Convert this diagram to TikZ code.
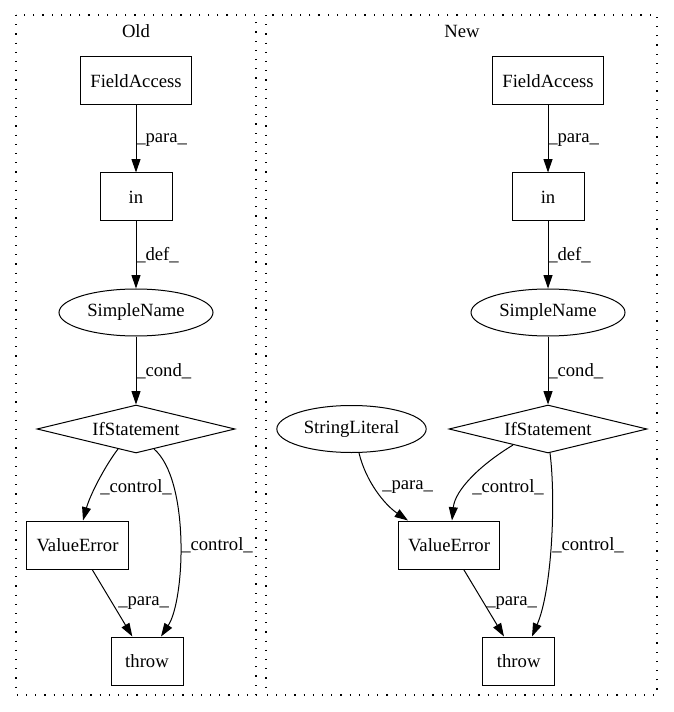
\documentclass[tikz,border=0pt]{standalone}
\usepackage{fontspec}
\setmainfont{Liberation Serif}
\usetikzlibrary{shapes.geometric,arrows.meta}
\begin{document}
\begin{tikzpicture}[x=0.75pt,y=-0.75pt,
  every node/.style={font=\fontsize{14}{16}\selectfont},
  box/.style={draw,line width=0.75pt,rectangle,inner sep=0pt,minimum height=36pt},
  ell/.style={draw,line width=0.75pt,ellipse,inner sep=0pt,minimum height=35.25pt},
  dia/.style={draw,line width=0.75pt,diamond,shape aspect=4,inner sep=0pt,minimum width=148.5pt,minimum height=36pt},
  edge/.style={draw,line width=0.75pt,-{Triangle[length=10pt,width=6.7pt]}},
  lab/.style={anchor=west,inner sep=0pt},
  cluster/.style={draw,line width=0.9pt,dash pattern=on 0.9pt off 6pt}]
\useasboundingbox (0,0) rectangle (673,712);
% clusters
\draw[cluster] (16,15) rectangle (256,695);
\draw[cluster] (266,15) rectangle (657,695);
\node (oldt) at (136,31) {Old};
\node (newt) at (462,31) {New};
% Old nodes
\node[box,minimum width=83.25pt] (fa1) at (136,81) {FieldAccess};
\node[box,minimum width=54pt] (in1) at (136,197) {in};
\node[ell,minimum width=115.5pt] (sn1) at (136,312.5) {SimpleName};
\node[dia] (if1) at (136,429) {IfStatement};
\node[box,minimum width=76pt] (ve1) at (77.5,545) {ValueError};
\node[box,minimum width=54pt] (th1) at (147,661) {throw};
% Old edges
\draw[edge] (fa1) -- (in1);
\draw[edge] (in1) -- (sn1);
\draw[edge] (sn1) -- (if1);
\path (if1.center) ++(-18,20) coordinate (c1s);
\draw[edge] (c1s) .. controls (105,466) and (90,495) .. (ve1.north -| 83,0);
\path (if1.center) ++(18,20) coordinate (c2s);
\draw[edge] (c2s) .. controls (190,480) and (185,600) .. (th1.north -| 161,0);
\draw[edge] (ve1) -- (th1);
\node[lab] (l1) at (136,140) {\_para\_};
\node[lab] (l2) at (136,255) {\_def\_};
\node[lab] (l3) at (136,371) {\_cond\_};
\node[lab] (l4) at (100,487) {\_control\_};
\node[lab] (l5) at (181,545) {\_control\_};
\node[lab] (l6) at (118,603) {\_para\_};
% New nodes
\node[box,minimum width=83.25pt] (fa2) at (548,81) {FieldAccess};
\node[box,minimum width=54pt] (in2) at (548,197) {in};
\node[ell,minimum width=115.5pt] (sn2) at (548,312.5) {SimpleName};
\node[dia] (if2) at (548,429) {IfStatement};
\node[ell,minimum width=112pt] (sl2) at (351.5,429) {StringLiteral};
\node[box,minimum width=76pt] (ve2) at (449,545) {ValueError};
\node[box,minimum width=54pt] (th2) at (518.7,661) {throw};
% New edges
\draw[edge] (fa2) -- (in2);
\draw[edge] (in2) -- (sn2);
\draw[edge] (sn2) -- (if2);
\path (sl2.center) ++(7.5,24) coordinate (c3s);
\draw[edge] (c3s) .. controls (366,482) and (385,505) .. (ve2.north -| 408,0);
\path (if2.center) ++(-35,16) coordinate (c4s);
\draw[edge] (c4s) .. controls (480,465) and (455,490) .. (ve2.north -| 452,0);
\path (if2.center) ++(2,24) coordinate (c5s);
\draw[edge] (c5s) .. controls (556,500) and (552,590) .. (th2.north -| 532,0);
\draw[edge] (ve2) -- (th2);
\node[lab] (m1) at (548,140) {\_para\_};
\node[lab] (m2) at (548,255) {\_def\_};
\node[lab] (m3) at (548,371) {\_cond\_};
\node[lab] (m4) at (382,487) {\_para\_};
\node[lab] (m5) at (472,487) {\_control\_};
\node[lab] (m6) at (552,545) {\_control\_};
\node[lab] (m7) at (486,603) {\_para\_};
\end{tikzpicture}
\end{document}
